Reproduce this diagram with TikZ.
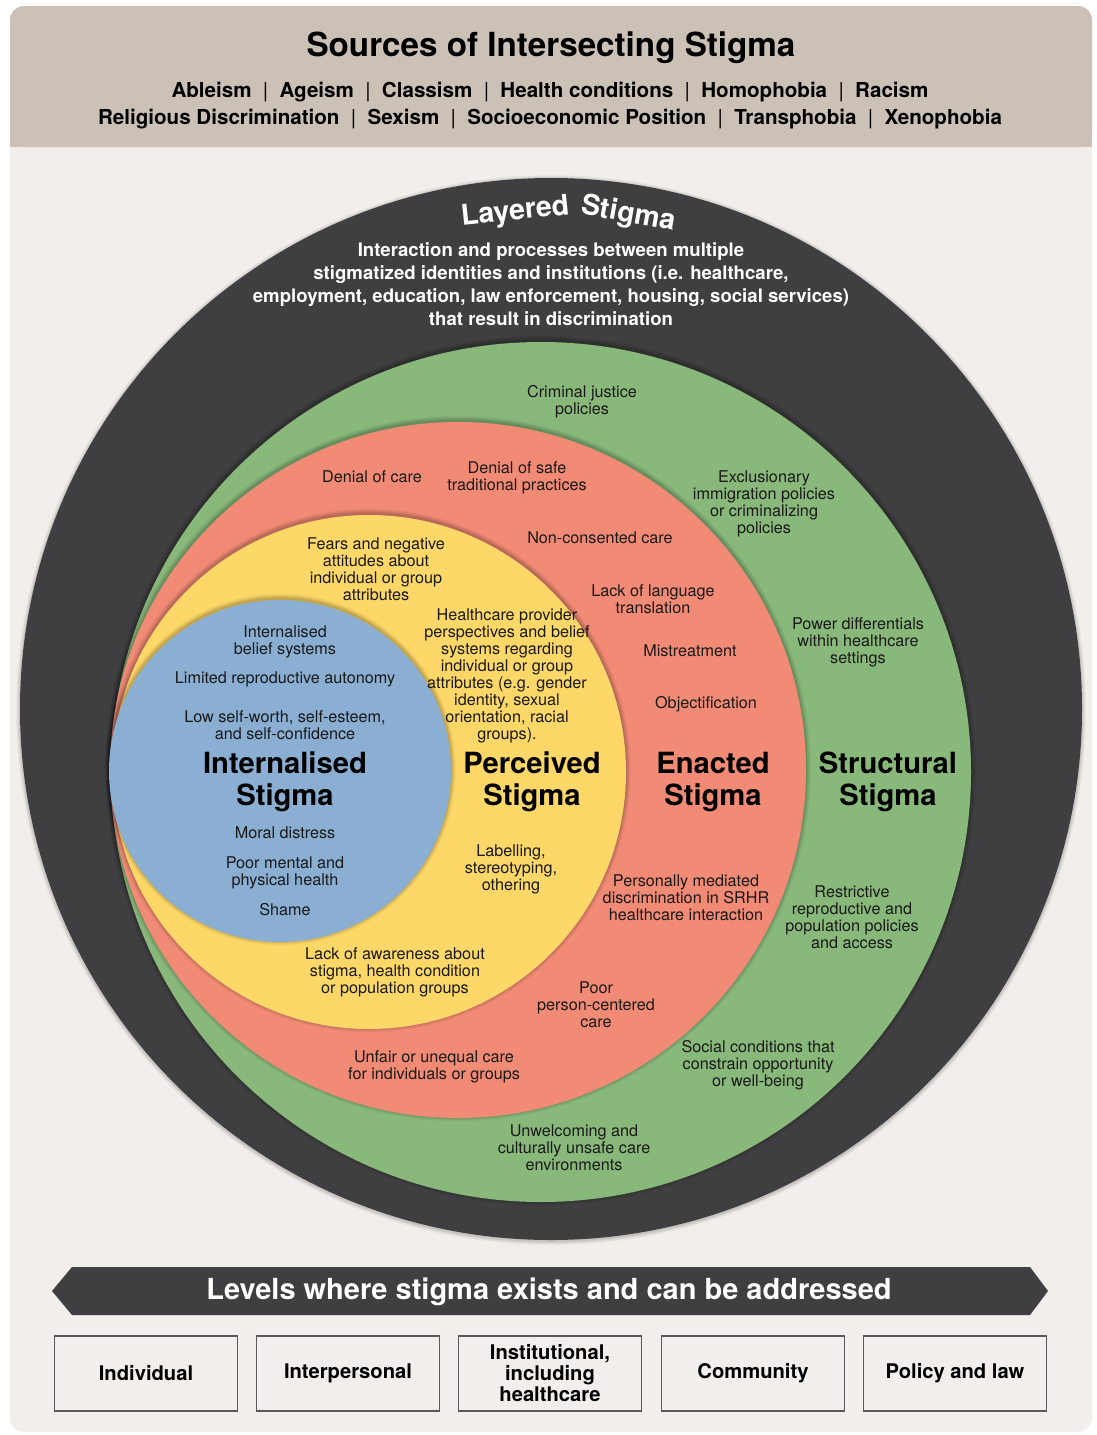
\documentclass[tikz,border=0pt]{standalone}
\usepackage{fontspec}
\setmainfont{TeX Gyre Heros}
\definecolor{bgc}{HTML}{F1EEEB}
\definecolor{hdr}{HTML}{CBC1B6}
\definecolor{dk}{HTML}{3F3E40}
\definecolor{grn}{HTML}{89B87B}
\definecolor{salm}{HTML}{F28B75}
\definecolor{ylw}{HTML}{FDD868}
\definecolor{blu}{HTML}{8AAFD3}
\definecolor{boxline}{HTML}{5A5858}
\newcommand\sepbar{\hspace{0.55em}{\mdseries|}\hspace{0.55em}}
\newcommand\glowdisc[4]{% x, y, radius, colour
  \foreach \d/\o in {5/0.03,4/0.04,3/0.05,2/0.06,1/0.07}
    \fill[black,opacity=\o] (#1,#2-1.5) circle[radius=#3pt+\d pt];
  \fill[#4] (#1,#2) circle[radius=#3pt];}
\begin{document}
\begin{tikzpicture}[x=1pt,y=-1pt,
  lbl/.style={align=center, font=\fontsize{16.2}{17}\selectfont, inner sep=0pt, text=black!90},
  big/.style={align=center, font=\fontsize{29.2}{32}\selectfont\bfseries, inner sep=0pt, text=black},
  arcword/.style={anchor=base, inner sep=0pt, text=white, font=\fontsize{28.5}{28}\selectfont\bfseries},
  boxlbl/.style={draw=boxline, line width=1.3pt, fill=bgc, minimum width=183pt, minimum height=75pt, align=center, font=\fontsize{20.2}{21}\selectfont\bfseries, inner sep=0pt},
  ]
\useasboundingbox (0,0) rectangle (1097,1435);
\fill[white] (0,0) rectangle (1097,1435);
\fill[bgc, rounded corners=14pt] (10,6) rectangle (1092,1432);
\fill[hdr, rounded corners=14pt] (10,6) rectangle (1092,147);
\fill[hdr] (10,120) rectangle (1092,147);

% header
\node[font=\fontsize{33.2}{35}\selectfont\bfseries, inner sep=0pt] (title) at (551,48) {Sources of Intersecting Stigma};
\node[font=\fontsize{20.6}{27}\selectfont\bfseries, inner sep=0pt, align=center] (sources) at (550,105.5)
 {Ableism\sepbar Ageism\sepbar Classism\sepbar Health conditions\sepbar Homophobia\sepbar Racism\\
  Religious Discrimination\sepbar Sexism\sepbar Socioeconomic Position\sepbar Transphobia\sepbar Xenophobia};

% circles
\foreach \d/\o in {4/0.03,3/0.04,2/0.05,1/0.06}
  \fill[black,opacity=\o] (551,710) circle[radius=531pt+\d pt];
\fill[dk] (551,709) circle[radius=531pt];
\glowdisc{541}{772}{430}{grn}
\glowdisc{458}{770}{348}{salm}
\glowdisc{369}{772}{257}{ylw}
\glowdisc{280}{771}{171}{blu}

% layered stigma
\node[arcword, rotate=6] (layeredw) at (516,220) {Layered};
\node[arcword, rotate=-10] (stigmaw) at (627,222) {Stigma};
\node[align=center, font=\fontsize{18.6}{23}\selectfont\bfseries, text=white, inner sep=0pt] (layerdesc) at (551,284.5)
 {Interaction and processes between multiple\\
  stigmatized identities and institutions (i.e. healthcare,\\
  employment, education, law enforcement, housing, social services)\\
  that result in discrimination};

% structural (green)
\node[lbl] (g1) at (582,401.5) {Criminal justice\\policies};
\node[lbl] (g2) at (764,503.5) {Exclusionary\\immigration policies\\or criminalizing\\policies};
\node[lbl] (g3) at (858,642) {Power differentials\\within healthcare\\settings};
\node[big] (structural) at (888,782) {Structural\\Stigma};
\node[lbl] (g4) at (852,917.5) {Restrictive\\reproductive and\\population policies\\and access};
\node[lbl] (g5) at (758,1065) {Social conditions that\\constrain opportunity\\or well-being};
\node[lbl] (g6) at (574,1148) {Unwelcoming and\\culturally unsafe care\\environments};

% enacted (red)
\node[lbl] (r1) at (372,477) {Denial of care};
\node[lbl] (r2) at (517,477.5) {Denial of safe\\traditional practices};
\node[lbl] (r3) at (600,538) {Non-consented care};
\node[lbl] (r4) at (653,599.5) {Lack of language\\translation};
\node[lbl] (r5) at (690,651) {Mistreatment};
\node[lbl] (r6) at (706,704) {Objectification};
\node[big] (enacted) at (713,782) {Enacted\\Stigma};
\node[lbl] (r7) at (686,898) {Personally mediated\\discrimination in SRHR\\healthcare interaction};
\node[lbl] (r8) at (596,1005) {Poor\\person-centered\\care};
\node[lbl] (r9) at (434,1066.5) {Unfair or unequal care\\for individuals or groups};

% perceived (yellow)
\node[lbl] (y1) at (376,569.5) {Fears and negative\\attitudes about\\individual or group\\attributes};
\node[lbl] (y2) at (507,675.5) {Healthcare provider\\perspectives and belief\\systems regarding\\individual or group\\attributes (e.g. gender\\identity, sexual\\orientation, racial\\groups).};
\node[big] (perceived) at (532,782) {Perceived\\Stigma};
\node[lbl] (y3) at (511,869) {Labelling,\\stereotyping,\\othering};
\node[lbl] (y4) at (395,972) {Lack of awareness about\\stigma, health condition\\or population groups};

% internalised (blue)
\node[lbl] (b1) at (285,641.5) {Internalised\\belief systems};
\node[lbl] (b2) at (285,679) {Limited reproductive autonomy};
\node[lbl] (b3) at (285,725.5) {Low self-worth, self-esteem,\\and self-confidence};
\node[big] (internalised) at (285,782) {Internalised\\Stigma};
\node[lbl] (b4) at (285,833) {Moral distress};
\node[lbl] (b5) at (285,872.5) {Poor mental and\\physical health};
\node[lbl] (b6) at (285,910) {Shame};

% levels banner
\fill[dk] (52,1291) -- (72,1267) -- (1030,1267) -- (1048,1291) -- (1030,1315) -- (72,1315) -- cycle;
\node[font=\fontsize{29}{30}\selectfont\bfseries, text=white, inner sep=0pt] (levels) at (549,1292) {Levels where stigma exists and can be addressed};

\node[boxlbl] (individual) at (146,1373.5) {Individual};
\node[boxlbl] (interpersonal) at (348,1373.5) {Interpersonal};
\node[boxlbl] (institutional) at (550,1373.5) {Institutional,\\including\\healthcare};
\node[boxlbl] (community) at (753,1373.5) {Community};
\node[boxlbl] (policy) at (955,1373.5) {Policy and law};
\end{tikzpicture}
\end{document}
